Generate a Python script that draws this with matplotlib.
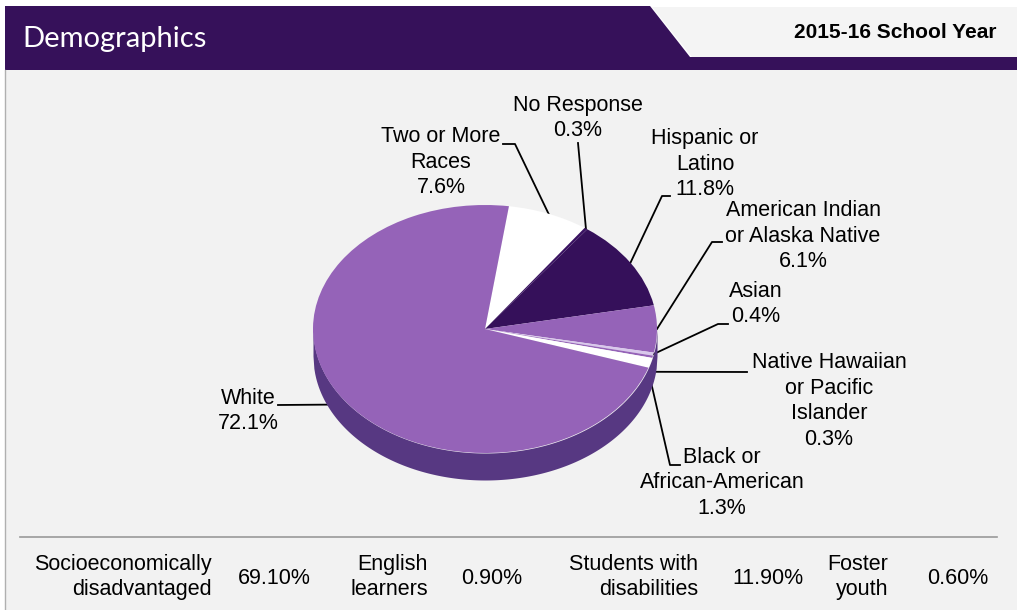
import matplotlib.pyplot as plt
import numpy as np
from matplotlib.patches import Polygon, Rectangle

# pie data (clockwise from the top)
groups = ["Two or More\nRaces", "No Response", "Hispanic or\nLatino",
          "American Indian\nor Alaska Native", "Asian",
          "Native Hawaiian\nor Pacific\nIslander", "Black or\nAfrican-American",
          "White"]
shares = [7.6, 0.3, 11.8, 6.1, 0.4, 0.3, 1.3, 72.1]
slice_colors = ["#ffffff", "#3a1262", "#35105a", "#9563b8", "#d9c8ec",
                "#9563b8", "#ffffff", "#9563b8"]

# bottom row
stat_names = ["Socioeconomically\ndisadvantaged", "English\nlearners",
              "Students with\ndisabilities", "Foster\nyouth"]
stat_values = [69.10, 0.90, 11.90, 0.60]

title = "Demographics"
year = "2015-16 School Year"

W, H = 1017, 610
plt.rcParams['font.family'] = ['Liberation Sans', 'DejaVu Sans']
fig = plt.figure(figsize=(W / 100, H / 100), dpi=100, facecolor='white')

# background axes in pixel coords
bg = fig.add_axes([0, 0, 1, 1])
bg.set_xlim(0, W)
bg.set_ylim(H, 0)
bg.axis('off')

bg.add_patch(Rectangle((5, 70), W - 5, H - 70, facecolor='#f2f2f2', edgecolor='none'))
bg.plot([5, 5], [70, H], color='#b0b0b0', lw=1)
bg.add_patch(Polygon([(5, 6), (650, 6), (690, 57), (W, 57), (W, 70), (5, 70)],
                     closed=True, facecolor='#36115a', edgecolor='none'))
bg.add_patch(Polygon([(652, 7), (W, 7), (W, 57), (692, 57)],
                     closed=True, facecolor='#f4f4f4', edgecolor='none'))
bg.text(22, 39, title, color='white', fontsize=21, family=['Lato', 'DejaVu Sans'],
        fontweight='normal', va='center', ha='left')
bg.text(997, 32, year, color='black', fontsize=15, fontweight='bold',
        va='center', ha='right')

# pie geometry (pixels)
cx, cy, a, b, depth = 485, 329, 172, 124, 27
pax = fig.add_axes([(cx - a) / W, (H - (cy + b + depth)) / H,
                    2 * a / W, (2 * b + depth) / H])
wedges, _ = pax.pie(shares, colors=slice_colors, startangle=82,
                    counterclock=False, radius=1, wedgeprops=dict(linewidth=0))
pax.set_aspect('auto')
pax.set_xlim(-1, 1)
pax.set_ylim(-1 - depth / b, 1)
xs = np.linspace(-1, 1, 400)
ys = -np.sqrt(1 - xs ** 2)
pax.fill_between(xs, ys - depth / b, ys, color='#573882', lw=0, zorder=0)
pax.axis('off')

# label layout: text centre, leader start/elbow, drop onto side
label_pos = [(441, 162), (578, 118), (705, 164), (803, 236), (756, 304),
             (829, 401), (722, 483), (248, 411)]
leader_pts = [[(503, 144), (515, 144)], [(578, 143)], [(670, 196), (662, 196)],
              [(722, 242), (712, 242)], [(728, 324), (718, 324)], [(747, 372)],
              [(680, 465), (670, 465)], [(278, 405)]]
drops = [0, 0, 0, 0, 0, 15, 17, 10]

for w, name, val, (tx, ty), pts, dr in zip(wedges, groups, shares, label_pos,
                                           leader_pts, drops):
    th = np.deg2rad((w.theta1 + w.theta2) / 2)
    ax_ = cx + a * np.cos(th)
    ay_ = cy - b * np.sin(th) + dr
    path = pts + [(ax_, ay_)]
    bg.plot([p[0] for p in path], [p[1] for p in path], color='black', lw=1.3,
            zorder=5)
    bg.text(tx, ty, f"{name}\n{val:.1f}%", ha='center', va='center',
            fontsize=15.5, linespacing=1.3, zorder=6)

# bottom stats row
bg.plot([20, 997], [537, 537], color='#9a9a9a', lw=1.2)
name_x = [212, 428, 698, 888]
value_x = [274, 492, 768, 958]
for nm, v, nx, vx in zip(stat_names, stat_values, name_x, value_x):
    bg.text(nx, 577, nm, ha='right', va='center', fontsize=15.5,
            linespacing=1.3, multialignment='right')
    bg.text(vx, 578, f"{v:.2f}%", ha='center', va='center', fontsize=15.5)

fig.savefig('out.png', dpi=100, facecolor=fig.get_facecolor())
